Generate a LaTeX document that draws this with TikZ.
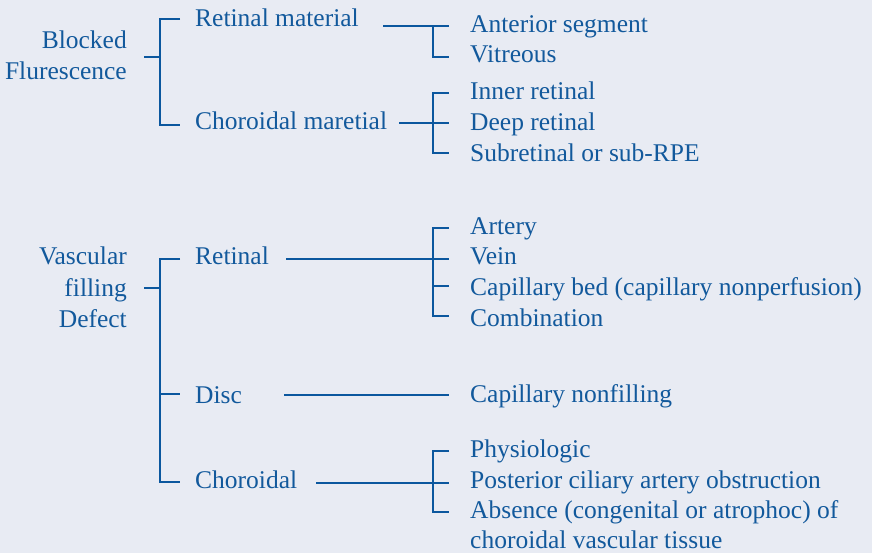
\documentclass[tikz,border=0pt]{standalone}
\usepackage{fontspec}
\setmainfont{Liberation Serif}
\definecolor{bg}{HTML}{E8EBF3}
\definecolor{ink}{HTML}{12599C}
\definecolor{wire}{HTML}{0B579E}
\begin{document}
\begin{tikzpicture}[x=1pt,y=-1pt,
  lbl/.style={inner sep=0pt,text=ink,font=\fontsize{25.5}{31}\selectfont},
  lw/.style={lbl,anchor=base west},
  le/.style={lbl,anchor=base east},
  wireline/.style={draw=wire,line width=1.9pt,line cap=butt,line join=miter}]
\fill[bg] (0,0) rectangle (872,553);
\useasboundingbox (0,0) rectangle (872,553);
% ---------- Block 1 ----------
\node[le] (bf1) at (127,49) {Blocked};
\node[le] (bf2) at (127,80) {Flurescence};
\node[lw] (rm) at (195,27) {Retinal material};
\node[lw] (cm) at (195,130) {Choroidal maretial};
\node[lw] (as) at (470,33) {Anterior segment};
\node[lw] (vi) at (470,63) {Vitreous};
\node[lw] (ir) at (470,100) {Inner retinal};
\node[lw] (dr) at (470,131) {Deep retinal};
\node[lw] (sr) at (470,162) {Subretinal or sub-RPE};
% bracket 1
\coordinate (t1) at (144,57);
\coordinate (v1) at (160,57);
\draw[wireline] (t1) -- (v1);
\draw[wireline] (180,19) -- (160,19) -- (160,125) -- (180,125);
% retinal material
\draw[wireline] (383,26) -- (449,26);
\draw[wireline] (433,26) -- (433,57) -- (449,57);
% choroidal material
\draw[wireline] (399,123) -- (449,123);
\draw[wireline] (449,93) -- (433,93) -- (433,153) -- (449,153);
% ---------- Block 2 ----------
\node[le] (vf1) at (127,265) {Vascular};
\node[le] (vf2) at (127,296) {filling};
\node[le] (vf3) at (127,327) {Defect};
\node[lw] (re) at (195,265) {Retinal};
\node[lw] (di) at (195,403) {Disc};
\node[lw] (ch) at (195,488) {Choroidal};
\node[lw] (ar) at (470,235) {Artery};
\node[lw] (ve) at (470,265) {Vein};
\node[lw] (cb) at (470,295) {Capillary bed (capillary nonperfusion)};
\node[lw] (co) at (470,326) {Combination};
\node[lw] (cn) at (470,402) {Capillary nonfilling};
\node[lw] (ph) at (470,457) {Physiologic};
\node[lw] (pc) at (470,488) {Posterior ciliary artery obstruction};
\node[lw] (ab) at (470,518) {Absence (congenital or atrophoc) of};
\node[lw] (ab2) at (470,548) {choroidal vascular tissue};
% bracket 2
\draw[wireline] (144,288) -- (160,288);
\draw[wireline] (180,259) -- (160,259) -- (160,482) -- (180,482);
\draw[wireline] (160,394) -- (180,394);
% retinal
\draw[wireline] (286,259) -- (449,259);
\draw[wireline] (449,228) -- (433,228) -- (433,316) -- (449,316);
\draw[wireline] (433,286) -- (449,286);
% disc
\draw[wireline] (284,395) -- (449,395);
% choroidal
\draw[wireline] (316,483) -- (449,483);
\draw[wireline] (449,451) -- (433,451) -- (433,512) -- (449,512);
\end{tikzpicture}
\end{document}
